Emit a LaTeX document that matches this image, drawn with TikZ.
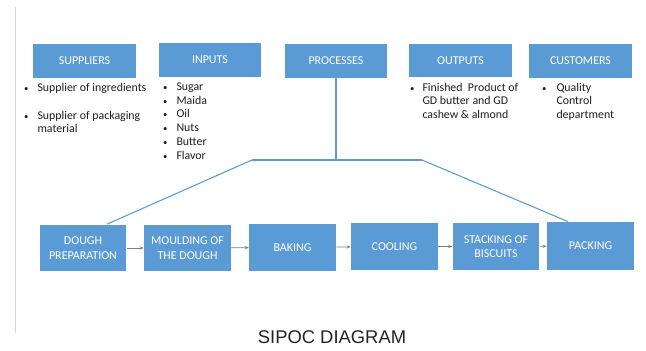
\documentclass[tikz,border=0pt]{standalone}
\usepackage{fontspec}
\setmainfont{Carlito}
\newfontfamily\titlefont{Liberation Sans}
\usetikzlibrary{arrows.meta}

\definecolor{boxblue}{RGB}{91,155,213}
\definecolor{flowgray}{RGB}{125,125,125}
\definecolor{listtext}{RGB}{30,30,30}

\tikzset{every picture/.style={line width=0.75pt}}
\tikzset{
	headbox/.style={fill=boxblue, text=white, minimum width=77pt, minimum height=25pt, inner sep=1pt, font=\fontsize{9}{10.5}\selectfont},
	stepbox/.style={fill=boxblue, text=white, minimum width=65pt, minimum height=35pt, inner sep=1pt, align=center, font=\fontsize{9}{10.8}\selectfont},
	listline/.style={anchor=west, inner sep=0pt, text=listtext, text height=6.5pt, text depth=2pt, font=\fontsize{8.9}{10.4}\selectfont},
	bulletdot/.style={listline, font=\fontsize{6.5}{8}\selectfont},
	treeline/.style={draw=boxblue, line width=0.8pt},
	flowarrow/.style={draw=flowgray, line width=0.5pt, -{Stealth[length=3pt,width=2.4pt]}}
}

\begin{document}
\begin{tikzpicture}[x=0.75pt,y=0.75pt,yscale=-1,xscale=1]
		\useasboundingbox (0,0) rectangle (646,350);
		
		%Left page rule
		\draw [color={rgb, 255:red, 215; green, 215; blue, 215 }] (15,7) -- (15,333) ;
		
		% Header boxes
		\node [headbox] (suppliers) at (84.5,61) {SUPPLIERS};
		\node [headbox] (inputs) at (210,60) {INPUTS};
		\node [headbox] (processes) at (336,61) {PROCESSES};
		\node [headbox] (outputs) at (460.5,60.5) {OUTPUTS};
		\node [headbox] (customers) at (580.5,61) {CUSTOMERS};
		
		% Process step boxes
		\node [stepbox] (dough) at (83,248) {DOUGH\\PREPARATION};
		\node [stepbox] (moulding) at (187.5,248) {MOULDING OF\\THE DOUGH};
		\node [stepbox] (baking) at (292.5,247.5) {BAKING};
		\node [stepbox] (cooling) at (394.5,246.5) {COOLING};
		\node [stepbox] (stacking) at (496,246.5) {STACKING OF\\BISCUITS};
		\node [stepbox, minimum height=36pt] (packing) at (590.5,246) {PACKING};
		
		% Tree from PROCESSES down to the steps
		\coordinate (hub) at (336,160);
		\coordinate (leftknee) at (252,160);
		\coordinate (rightknee) at (422,160);
		\draw [treeline] (processes.south) -- (hub) ;
		\draw [treeline] (leftknee) -- (rightknee) ;
		\draw [treeline] (leftknee) -- ([xshift=18pt]dough.north) ;
		\draw [treeline] (rightknee) -- ([xshift=-17pt]packing.north) ;
		
		% Flow arrows
		\draw [flowarrow] (dough) -- (moulding) ;
		\draw [flowarrow] (moulding) -- (baking) ;
		\draw [flowarrow] (baking) -- (cooling) ;
		\draw [flowarrow] (cooling) -- (stacking) ;
		\draw [flowarrow] (stacking) -- (packing) ;
		
		% Text Node: suppliers list
		\node [bulletdot] (supb1) at (23.5,88) {\textbullet};
		\node [listline] (sup1) at (37,88) {Supplier of ingredients};
		\node [bulletdot] (supb2) at (23.5,116) {\textbullet};
		\node [listline] (sup2) at (37,116) {Supplier of packaging};
		\node [listline] (sup3) at (37,129.5) {material};
		
		% Text Node: inputs list
		\foreach \item [count=\i] in {Sugar,Maida,Oil,Nuts,Butter,Flavor}{
			\node [bulletdot] (inb\i) at (162.5,73.5+13.8*\i) {\textbullet};
			\node [listline] (in\i) at (176,73.5+13.8*\i) {\item};
		}
		
		% Text Node: outputs list
		\node [bulletdot] (outb1) at (409.5,88) {\textbullet};
		\node [listline] (out1) at (422,88) {Finished\ \ Product of};
		\node [listline] (out2) at (422,101.5) {GD butter and GD};
		\node [listline] (out3) at (422,115) {cashew \& almond};
		
		% Text Node: customers list
		\node [bulletdot] (cusb1) at (541.5,88) {\textbullet};
		\node [listline] (cus1) at (556,88) {Quality};
		\node [listline] (cus2) at (556,101.5) {Control};
		\node [listline] (cus3) at (556,115) {department};
		
		% Text Node: title
		\node [text={rgb, 255:red, 35; green, 35; blue, 35 }, font=\titlefont\fontsize{13.8}{16}\selectfont] (title) at (332,337) {SIPOC DIAGRAM};
		
\end{tikzpicture}
\end{document}
